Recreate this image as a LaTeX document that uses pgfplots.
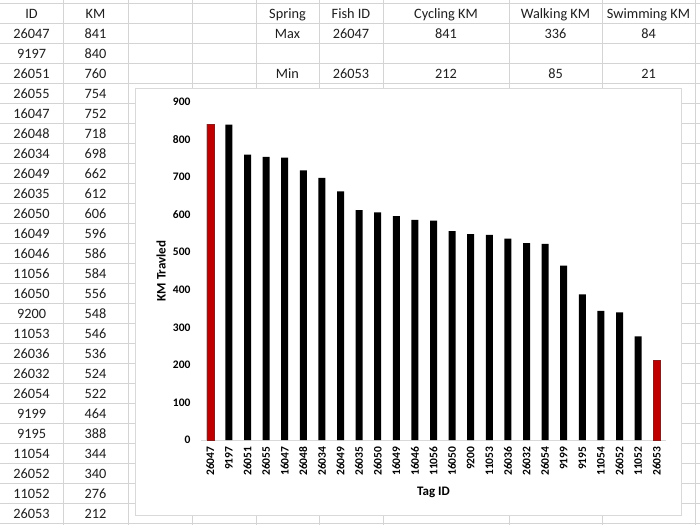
\documentclass[border=0pt]{standalone}
\usepackage{pgfplots}
\pgfplotsset{compat=1.18}
\usepackage{pgfplotstable}
\usepackage{fontspec}
\setmainfont{Carlito}

\definecolor{gridgray}{HTML}{D4D4D4}
\definecolor{boxgray}{HTML}{D9D9D9}
\definecolor{barred}{HTML}{C00000}
\definecolor{barredline}{HTML}{8B1A1A}
\definecolor{celltext}{HTML}{1F1F1F}

% ranked distances, one row per tag
\pgfplotstableread{
idx id km
0 26047 841
1 9197 840
2 26051 760
3 26055 754
4 16047 752
5 26048 718
6 26034 698
7 26049 662
8 26035 612
9 26050 606
10 16049 596
11 16046 586
12 11056 584
13 16050 556
14 9200 548
15 11053 546
16 26036 536
17 26032 524
18 26054 522
19 9199 464
20 9195 388
21 11054 344
22 26052 340
23 11052 276
24 26053 212
}\kmdata

% the two extremes, drawn red
\pgfplotstableread{
idx km
0 841
24 212
}\kmext

\newcommand{\cellfont}{\fontsize{14.3}{16}\selectfont}

\begin{document}
\begin{tikzpicture}
\path[use as bounding box,fill=white] (0pt,0pt) rectangle (700pt,525pt);

% sheet grid
\foreach \cx in {63,128,192,256,319,383,509,602,695}
  \draw[gridgray,line width=0.8pt] (\cx pt,0pt) -- (\cx pt,525pt);
\foreach \k in {0,...,26}
  \draw[gridgray,line width=0.8pt] (0pt,{(522-20*\k)*1pt}) -- (700pt,{(522-20*\k)*1pt});

% left block
\begin{scope}[every node/.style={anchor=base,inner sep=0pt,text=celltext,font=\cellfont}]
\node at (31.5pt,506.5pt) {ID};
\node at (95.5pt,506.5pt) {KM};
\foreach \r in {0,...,24}{
  \pgfplotstablegetelem{\r}{id}\of\kmdata
  \node at (31.5pt,{(486.5-20*\r)*1pt}) {\pgfplotsretval};
  \pgfplotstablegetelem{\r}{km}\of\kmdata
  \node at (95.5pt,{(486.5-20*\r)*1pt}) {\pgfplotsretval};
}
% summary block
\node at (287.5pt,506.5pt) {Spring};
\node at (351pt,506.5pt) {Fish ID};
\node at (446pt,506.5pt) {Cycling KM};
\node at (555.5pt,506.5pt) {Walking KM};
\node at (648.5pt,506.5pt) {Swimming KM};
\node at (287.5pt,486.5pt) {Max};
\node at (351pt,486.5pt) {26047};
\node at (446pt,486.5pt) {841};
\node at (555.5pt,486.5pt) {336};
\node at (648.5pt,486.5pt) {84};
\node at (287.5pt,446.5pt) {Min};
\node at (351pt,446.5pt) {26053};
\node at (446pt,446.5pt) {212};
\node at (555.5pt,446.5pt) {85};
\node at (648.5pt,446.5pt) {21};
\end{scope}

% chart area
\draw[boxgray,fill=white,line width=0.8pt] (135pt,10pt) rectangle (681pt,437pt);

\begin{axis}[
  at={(201pt,85pt)}, anchor=south west,
  scale only axis, width=465pt, height=338pt,
  xmin=-0.5, xmax=24.5, ymin=0, ymax=900,
  axis x line=bottom, axis y line=left,
  x axis line style={-,draw=boxgray,line width=0.8pt},
  y axis line style={draw=none},
  major tick length=0pt, tick style={draw=none},
  ytick={0,100,...,900},
  xtick={0,...,24},
  xticklabels from table={\kmdata}{id},
  /pgf/number format/assume math mode=true,
  ticklabel style={font=\bfseries\fontsize{11.5}{12}\selectfont},
  yticklabel style={xshift=-7pt},
  xticklabel style={yshift=-3pt,rotate=90,anchor=east},
  xlabel={Tag ID}, ylabel={KM Travled},
  label style={font=\bfseries\fontsize{13}{14}\selectfont},
  xlabel style={at={(axis description cs:0.5,-0.154)},anchor=center},
  ylabel style={at={(axis description cs:-0.086,0.5)},anchor=center,rotate=0},
  ybar, bar width=7pt, bar shift=0pt,
  clip=false,
]
\addplot[fill=black,draw=none] table[x=idx,y=km] {\kmdata};
\addplot[fill=barred,draw=barredline,line width=0.6pt] table[x=idx,y=km] {\kmext};
\end{axis}
\end{tikzpicture}
\end{document}
